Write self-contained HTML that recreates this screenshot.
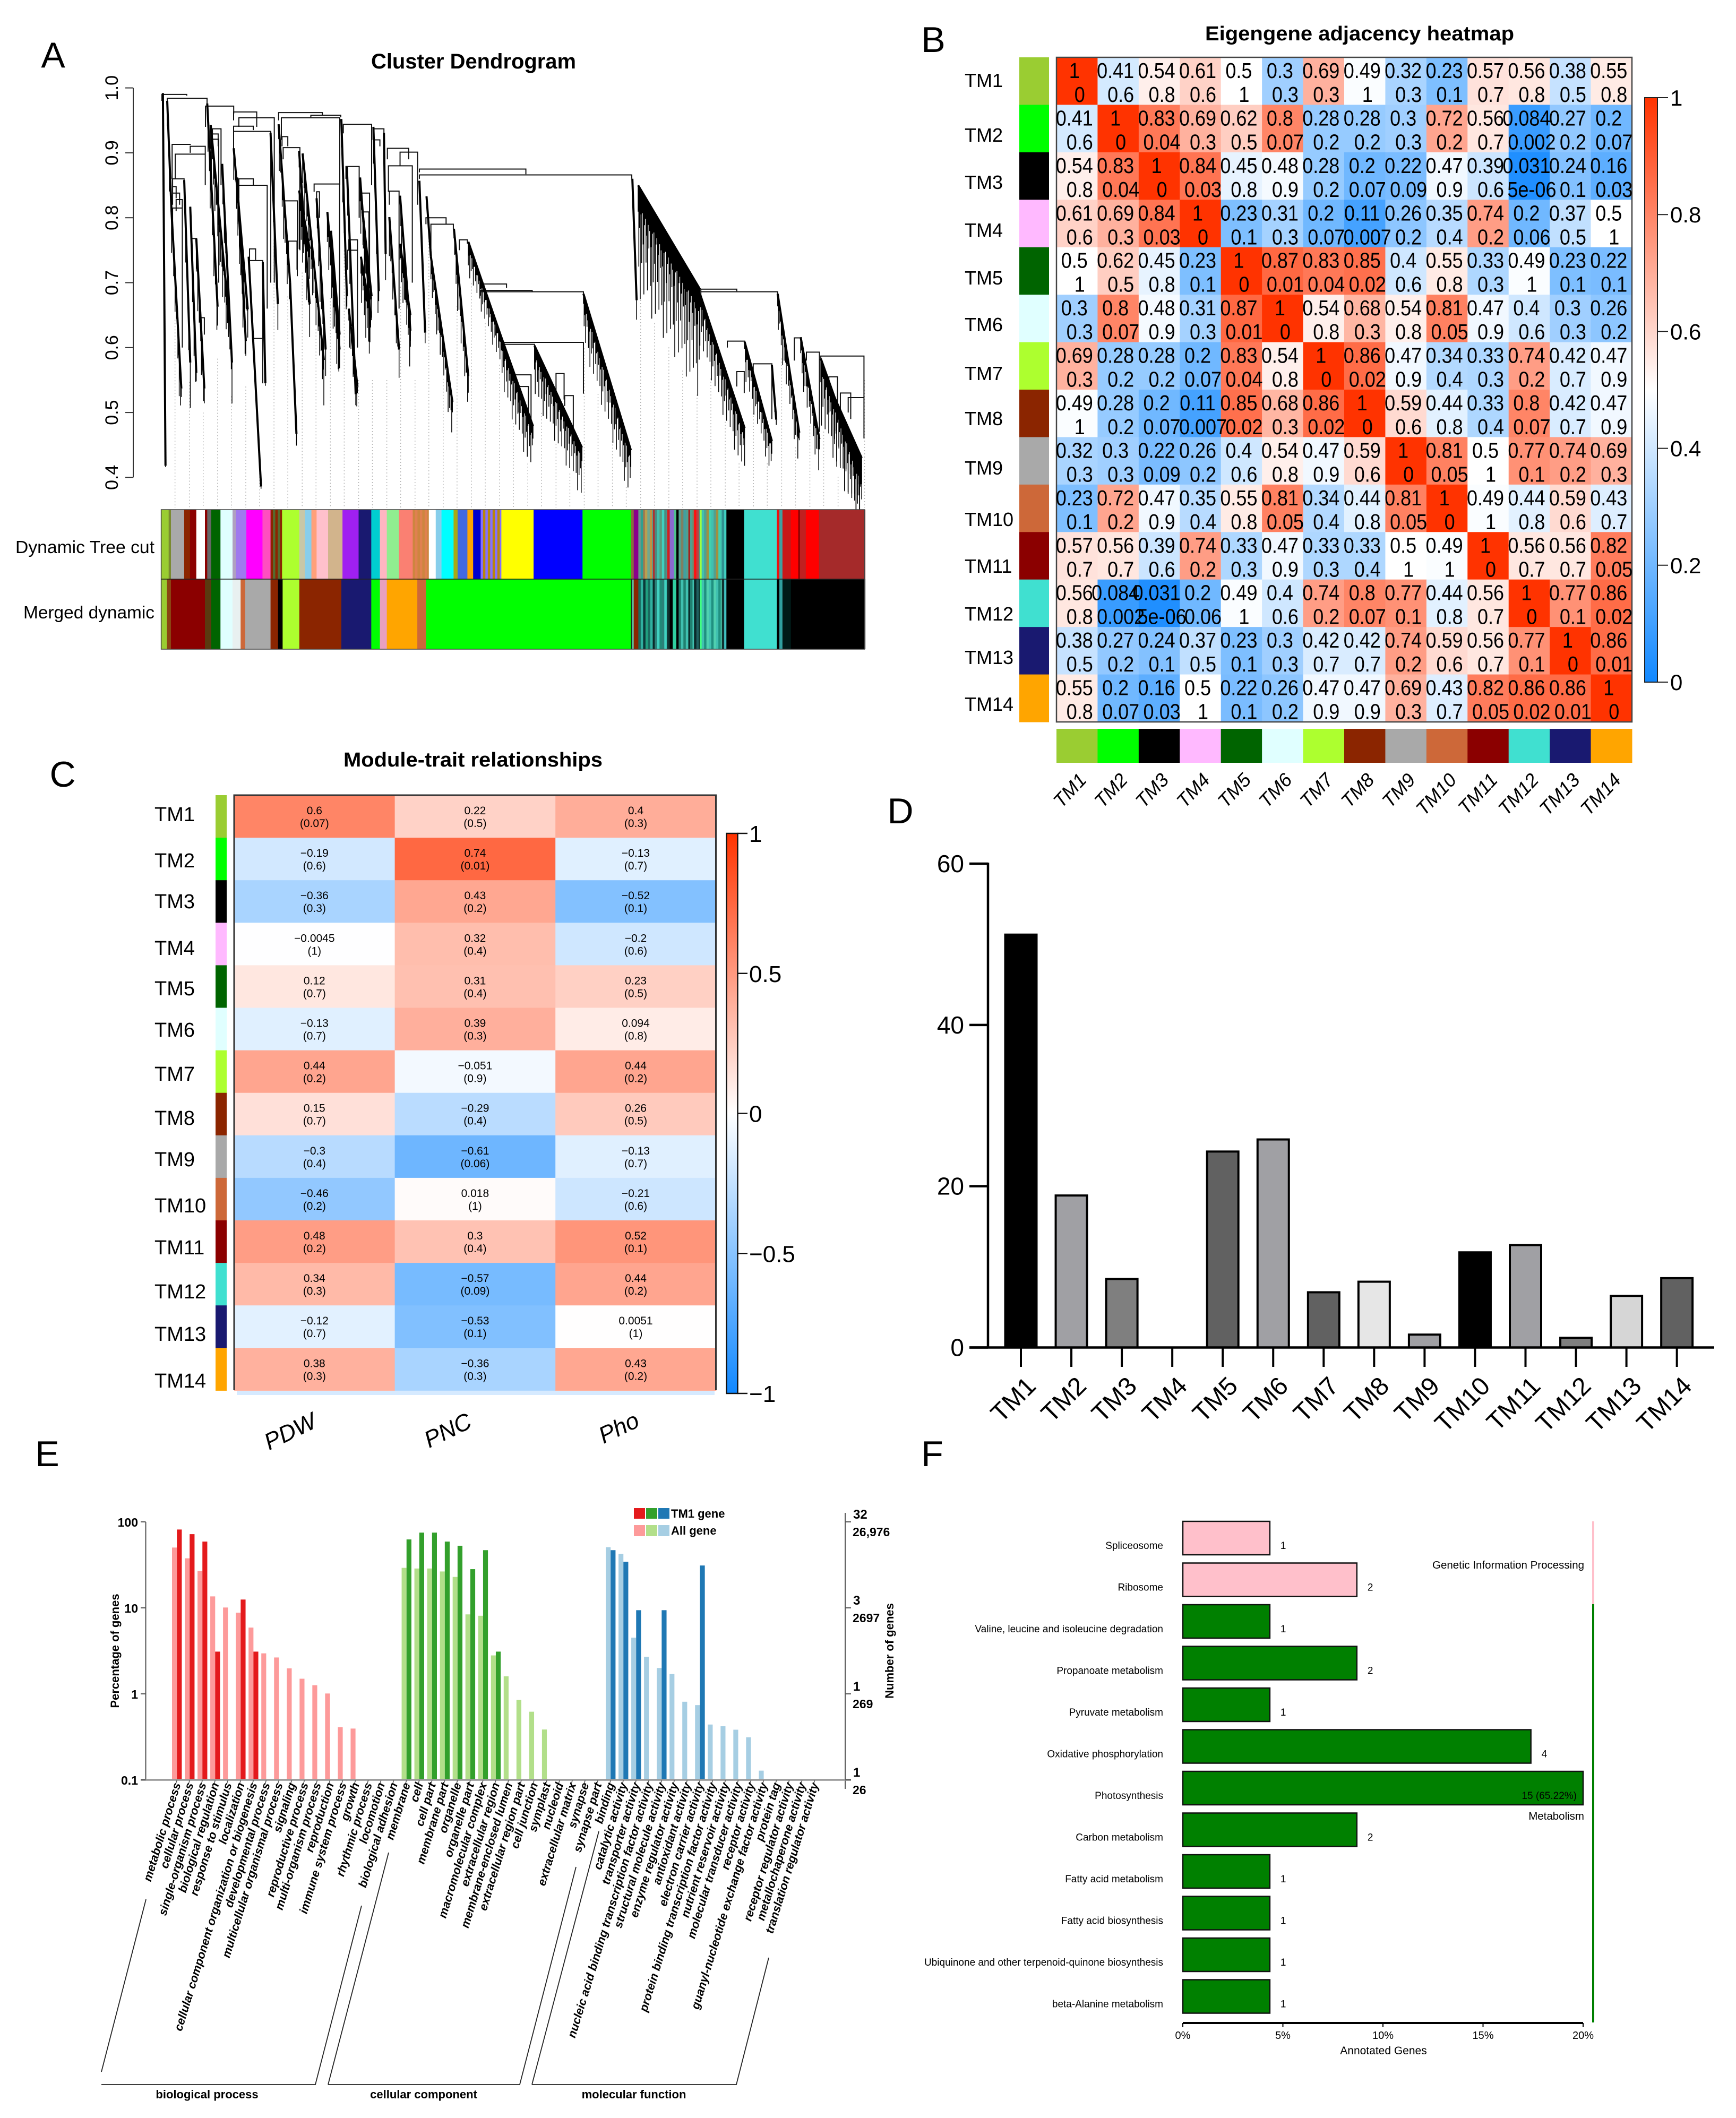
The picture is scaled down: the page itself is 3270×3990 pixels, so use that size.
<!DOCTYPE html>
<html lang="en">
<head>
<meta charset="utf-8">
<title>WGCNA module figure</title>
<style>
html,body{margin:0;padding:0;background:#fff;}
svg{display:block;}
text{font-family:"Liberation Sans",sans-serif;fill:#000;}
</style>
</head>
<body>
<svg id="fig" xmlns="http://www.w3.org/2000/svg" width="3270" height="3990" viewBox="0 0 3270 3990">
<rect x="0" y="0" width="3270" height="3990" fill="#ffffff"/>
</svg>
<script>
/* ---------- shared labels and colours ---------- */
const moduleNames = ["TM1","TM2","TM3","TM4","TM5","TM6","TM7","TM8","TM9","TM10","TM11","TM12","TM13","TM14"];
const moduleColors = ["#9acd32","#00ff00","#000000","#ffb9ff","#006400","#e0ffff","#adff2f","#8b2500","#a9a9a9","#cd6839","#8b0000","#40e0d0","#191970","#ffa500"];

/* ---------- A: dendrogram (position = leaf order, height = merge height) ---------- */
const dendroTicks = [1.0,0.9,0.8,0.7,0.6,0.5,0.4];
/* [start position, start height, end position, end height, leaf drop] */
const dendroArms = [
[283,.992,287.5,.418,.01],[290.5,.98,298,.809,.06],[298,.809,315,.537,.07],[320,.858,330.5,.577,.07],
[330.5,.817,341,.561,.07],[341,.768,355,.537,.07],[360,.976,378,.663,.08],[366,.943,396.6,.659,.08],
[386,.883,403,.577,.07],[406,.907,430.4,.659,.06],[412,.862,427,.61,.07],[432,.74,453.5,.386,.016],
[456.5,.732,461,.545,.02],[470,.931,482.7,.667,.04],[484,.944,504,.7,.07],[504,.7,515,.467,.02],
[519.6,.903,538,.667,.07],[525.7,.899,562.6,.581,.07],[519.6,.842,538,.752,.1],[568.7,.809,590,.597,.08],
[550,.83,565.7,.597,.07],[593,.952,602.6,.679,.06],[602.6,.878,618,.528,.07],[625.6,.862,644,.646,.08],
[630,.809,645.6,.679,.08],[648.7,.94,658,.687,.07],[667,.931,670,.744,.04],[676.4,.801,693.3,.597,.06],
[695,.834,713,.626,.07],[575,.78,590,.62,.08],[627,.74,644,.65,.08],[695,.76,713,.65,.06],[606,.66,621,.54,.05],
[728.6,.857,738.6,.623,.02],[741,.833,748.6,.74,.01],[748.6,.74,786,.516,.06],
[788.6,.783,813.6,.556,.07],[813.6,.763,871,.616,.05],[871,.616,926,.479,.08],[928.6,.603,1011,.446,.08],
[1013.6,.683,1096,.442,.08],[1098.6,.86,1106,.673,.03],[1108.6,.85,1216,.69,.17],[1216,.683,1293.6,.476,.08],
[1293.6,.609,1341,.456,.06],[1341,.573,1348.6,.489,.02],[1351,.683,1388.6,.469,.06],[1391,.616,1423.6,.459,.06],
[1426,.583,1496,.409,.1],[1450,.523,1497,.43,.11]
];
/* [left position, right position, merge height, left leg end, right leg end] */
const dendroMerges = [
[281.3,324.4,.99,.98,.988],[290.5,359.7,.984,.95,.97],[299,330.5,.913,.86,.912],[330.5,356.6,.91,.9,.86],
[304.4,356.6,.898,.86,.85],[299.8,319.8,.86,.82,.85],[299.8,306,.848,.83,.83],[299.8,312,.838,.82,.82],
[306,316.7,.828,.81,.81],[299.8,316.7,.815,.78,.6],[333,341.3,.768,.75,.76],[349,355,.646,.62,.62],
[357,406,.972,.94,.96],[369,384,.937,.92,.85],[369,379,.929,.9,.91],[369,380,.921,.89,.7],
[405.8,470.4,.933,.9,.7],[405.8,440,.941,.93,.935],[405.8,446,.963,.95,.94],[415,476.5,.954,.94,.7],
[415,464.2,.85,.83,.66],[415,440,.86,.85,.85],[433.5,444,.752,.73,.735],[433.5,456.5,.734,.71,.56],
[439.6,456.5,.614,.6,.545],[484,560,.962,.95,.958],[488.8,590.3,.954,.92,.85],[540,592,.958,.955,.955],
[491.9,521,.908,.89,.75],[493.4,516.5,.826,.8,.71],[501,516,.764,.75,.72],[490,500,.925,.91,.91],
[545.7,590,.852,.84,.6],[550,555,.84,.8,.8],[596.4,645.6,.944,.93,.85],[601,624,.879,.86,.8],
[628,642,.838,.82,.7],[631,641,.809,.79,.7],[606,621,.766,.75,.72],[604,621,.75,.72,.6],
[648,667,.937,.92,.93],[650,660,.92,.91,.91],[673,710,.907,.89,.89],[695,725.5,.901,.88,.82],
[674.8,716.3,.88,.84,.7],[676.4,693.3,.841,.82,.66],[728.6,913.6,.875,.87,.867],[728.6,1097.6,.866,.86,.86],
[740,775,.8,.79,.79],[748.6,787.6,.79,.75,.783],[798,812,.766,.75,.76],[834.6,880,.698,.69,.692],
[834.6,924.6,.688,.68,.686],[834.6,1013.6,.686,.68,.683],[871,1013.6,.608,.6,.529],[871,928.6,.605,.6,.6],
[893.6,922.6,.558,.55,.49],[900,918,.54,.5,.5],[981,996,.526,.51,.47],[966,980,.56,.53,.52],
[1217.6,1280,.69,.685,.687],[1217.6,1351,.686,.68,.683],[1263.6,1293.6,.61,.6,.6],[1308.6,1341,.575,.56,.49],
[1280,1293,.563,.54,.53],[1380,1392,.615,.58,.61],[1401,1423.6,.593,.58,.47],[1426,1501,.587,.58,.51],
[1473.6,1501,.523,.5,.46],[1440,1455,.555,.5,.5],[1460,1478,.53,.48,.49]
];
const leafDropPattern = [.55,1,.3,.8,.15,.65,.95,.4,.2,.75,.5,.9,.25,.6,.35,.85];
const guidePositions = [304,329,353,378,402,427,451,476,500,525,549,574,598,623,647,672,696,721,745,770,794,819,843,868,892,917,941,966,990,1015,1039,1064,1088,1113,1137,1162,1186,1211,1235,1260,1284,1309,1333,1358,1382,1407,1431,1456,1480,1502];
/* [end position, colour or list of alternating stripe colours] */
const treeCutSegments = [[293,"#9acd32"],[297,"#7a8a30"],[320,"#a9a9a9"],[330,"#8b2500"],[341,"#8b0000"],[356,"#ffffff"],[360,"#8b0000"],[367,"#666666"],[383,"#006400"],[404,"#e0ffff"],[410,"#b0a0c0"],[428,"#9f79ee"],[456,"#ff00ff"],[470,"#ff4fc0"],[490,["#8b2500","#556b2f"]],[520,"#adff2f"],[530,"#c7c7a7"],[541,"#87ceeb"],[550,"#ffa07a"],[570,"#ffc0cb"],[595,"#d2b48c"],[623,"#a020f0"],[645,"#191970"],[660,"#00ced1"],[672,"#ffb6c1"],[693,"#90ee90"],[717,"#fa8072"],[745,["#cd853f","#e08050"]],[757,"#ffffff"],[767,"#87ceeb"],[788,"#00ffff"],[795,"#a9a914"],[812,"#4169e1"],[822,"#ffa500"],[835,"#0000cd"],[871,["#8470ff","#b8860b"]],[927,"#ffff00"],[1012,"#0000ff"],[1096,"#00ff00"],[1101,"#8b6a40"],[1109,"#8b008b"],[1120.5,["#6a9a8a","#2fa090","#a07850"]],[1134.4,["#b8a050","#70a890","#c09040","#50a090"]],[1137.5,"#b03030"],[1159,["#4a8a80","#40c0b0","#5a9a80","#40d0c0"]],[1163.5,"#d02020"],[1171,"#8a6ad0"],[1175,"#50c090"],[1179,"#000000"],[1196,["#50a090","#808060","#40a0a0"]],[1199,"#a02020"],[1205.7,["#50a090","#808060"]],[1209.7,"#ff1010"],[1215.8,["#c04040","#509080"]],[1219,"#a0ff40"],[1254,["#40c0b0","#50a090","#a09040","#40d0b0"]],[1262,["#309090","#40d0c0"]],[1292.7,"#000000"],[1349.6,"#40e0d0"],[1354,"#ee1010"],[1359.4,"#40a0a0"],[1374,"#c81818"],[1387,"#ff0000"],[1389.5,"#800000"],[1400,"#c02020"],[1422.7,"#ff0000"],[1503,"#a52a2a"]];
const mergedSegments = [[290,"#9acd32"],[297,"#8b4513"],[356,"#8b0000"],[367,"#5a3a10"],[383,"#006400"],[404,"#e0ffff"],[418,"#e8f0f0"],[426,"#cd6839"],[470,"#a9a9a9"],[483,"#8b2500"],[491,"#000000"],[520,"#adff2f"],[593,"#8b2500"],[645,"#191970"],[660,"#00ff00"],[672,"#e8a0c0"],[725,"#ffa500"],[740,"#cd6839"],[1096,"#00ff00"],[1098,"#103020"],[1101,"#60c0a0"],[1109,"#8b2500"],[1134.4,["#1a6a60","#30b0a0","#0a3a3a","#20a080"]],[1137.5,"#0a2a2a"],[1159,["#2a8078","#40d0c0","#208878"]],[1163.5,"#103030"],[1168.7,"#000000"],[1175,"#30d0a0"],[1179,"#000000"],[1196,["#208070","#40c0b0"]],[1199,"#0a2a2a"],[1205.7,["#208070","#40c0b0"]],[1215.8,["#0a2a2a","#206060"]],[1219,"#40ff80"],[1254,["#40c0b0","#209080","#50d0b0"]],[1262,["#103030","#40c0c0"]],[1292.7,"#000000"],[1349.6,"#40e0d0"],[1354,"#000000"],[1359.4,"#30a0a0"],[1374,"#001a18"],[1503,"#000000"]];

/* ---------- B: eigengene adjacency (r above, p below) ---------- */
const adjacencyValues = [
[1,.41,.54,.61,.5,.3,.69,.49,.32,.23,.57,.56,.38,.55],
[.41,1,.83,.69,.62,.8,.28,.28,.3,.72,.56,.084,.27,.2],
[.54,.83,1,.84,.45,.48,.28,.2,.22,.47,.39,.031,.24,.16],
[.61,.69,.84,1,.23,.31,.2,.11,.26,.35,.74,.2,.37,.5],
[.5,.62,.45,.23,1,.87,.83,.85,.4,.55,.33,.49,.23,.22],
[.3,.8,.48,.31,.87,1,.54,.68,.54,.81,.47,.4,.3,.26],
[.69,.28,.28,.2,.83,.54,1,.86,.47,.34,.33,.74,.42,.47],
[.49,.28,.2,.11,.85,.68,.86,1,.59,.44,.33,.8,.42,.47],
[.32,.3,.22,.26,.4,.54,.47,.59,1,.81,.5,.77,.74,.69],
[.23,.72,.47,.35,.55,.81,.34,.44,.81,1,.49,.44,.59,.43],
[.57,.56,.39,.74,.33,.47,.33,.33,.5,.49,1,.56,.56,.82],
[.56,.084,.031,.2,.49,.4,.74,.8,.77,.44,.56,1,.77,.86],
[.38,.27,.24,.37,.23,.3,.42,.42,.74,.59,.56,.77,1,.86],
[.55,.2,.16,.5,.22,.26,.47,.47,.69,.43,.82,.86,.86,1]];
const adjacencyPvalues = [
["0","0.6","0.8","0.6","1","0.3","0.3","1","0.3","0.1","0.7","0.8","0.5","0.8"],
["0.6","0","0.04","0.3","0.5","0.07","0.2","0.2","0.3","0.2","0.7","0.002","0.2","0.07"],
["0.8","0.04","0","0.03","0.8","0.9","0.2","0.07","0.09","0.9","0.6","5e-06","0.1","0.03"],
["0.6","0.3","0.03","0","0.1","0.3","0.07","0.007","0.2","0.4","0.2","0.06","0.5","1"],
["1","0.5","0.8","0.1","0","0.01","0.04","0.02","0.6","0.8","0.3","1","0.1","0.1"],
["0.3","0.07","0.9","0.3","0.01","0","0.8","0.3","0.8","0.05","0.9","0.6","0.3","0.2"],
["0.3","0.2","0.2","0.07","0.04","0.8","0","0.02","0.9","0.4","0.3","0.2","0.7","0.9"],
["1","0.2","0.07","0.007","0.02","0.3","0.02","0","0.6","0.8","0.4","0.07","0.7","0.9"],
["0.3","0.3","0.09","0.2","0.6","0.8","0.9","0.6","0","0.05","1","0.1","0.2","0.3"],
["0.1","0.2","0.9","0.4","0.8","0.05","0.4","0.8","0.05","0","1","0.8","0.6","0.7"],
["0.7","0.7","0.6","0.2","0.3","0.9","0.3","0.4","1","1","0","0.7","0.7","0.05"],
["0.8","0.002","5e-06","0.06","1","0.6","0.2","0.07","0.1","0.8","0.7","0","0.1","0.02"],
["0.5","0.2","0.1","0.5","0.1","0.3","0.7","0.7","0.2","0.6","0.7","0.1","0","0.01"],
["0.8","0.07","0.03","1","0.1","0.2","0.9","0.9","0.3","0.7","0.05","0.02","0.01","0"]];
const adjacencyTicks = [1,0.8,0.6,0.4,0.2,0];

/* ---------- C: module-trait relationships ---------- */
const traitNames = ["PDW","PNC","Pho"];
const traitCorrelations = [
[.6,.22,.4],[-.19,.74,-.13],[-.36,.43,-.52],[-.0045,.32,-.2],[.12,.31,.23],[-.13,.39,.094],[.44,-.051,.44],
[.15,-.29,.26],[-.3,-.61,-.13],[-.46,.018,-.21],[.48,.3,.52],[.34,-.57,.44],[-.12,-.53,.0051],[.38,-.36,.43]];
const traitPvalues = [
["0.07","0.5","0.3"],["0.6","0.01","0.7"],["0.3","0.2","0.1"],["1","0.4","0.6"],["0.7","0.4","0.5"],["0.7","0.3","0.8"],["0.2","0.9","0.2"],
["0.7","0.4","0.5"],["0.4","0.06","0.7"],["0.2","1","0.6"],["0.2","0.4","0.1"],["0.3","0.09","0.2"],["0.7","0.1","1"],["0.3","0.3","0.2"]];
const traitTicks = [1,0.5,0,-0.5,-1];

/* ---------- D: module bar chart ---------- */
const barValues = [51.2,18.85,8.5,0,24.3,25.8,6.85,8.16,1.6,11.8,12.7,1.2,6.4,8.6];
const barFills = ["#000000","#a0a0a4","#7f7f7f","#7f7f7f","#616161","#a0a0a4","#616161","#e6e6e6","#a0a0a4","#000000","#a0a0a4","#7f7f7f","#d6d6d6","#616161"];
const barTicks = [0,20,40,60];

/* ---------- E: GO classification ---------- */
const goTerms = ["metabolic process","cellular process","single-organism process","biological regulation","response to stimulus","localization","cellular component organization or biogenesis","developmental process","multicellular organismal process","signaling","reproductive process","multi-organism process","reproduction","immune system process","growth","rhythmic process","locomotion","biological adhesion","membrane","cell","cell part","membrane part","organelle","organelle part","macromolecular complex","extracellular region","membrane-enclosed lumen","extracellular region part","cell junction","symplast","nucleoid","extracellular matrix","synapse","synapse part","binding","catalytic activity","transporter activity","nucleic acid binding transcription factor activity","structural molecule activity","enzyme regulator activity","antioxidant activity","electron carrier activity","protein binding transcription factor activity","nutrient reservoir activity","molecular transducer activity","receptor activity","guanyl-nucleotide exchange factor activity","protein tag","receptor regulator activity","metallochaperone activity","translation regulator activity"];
const goAllPercent = [50.3,37.7,26.8,13.6,10.1,8.8,5.9,2.96,2.65,1.98,1.5,1.26,1.01,.41,.395,0,0,0,
29.2,28.7,28.7,26.5,22.9,8.4,8.1,2.8,1.6,.85,.62,.385,0,0,0,0,
50.8,42.5,4.5,2.7,2.0,1.7,.81,.74,.44,.42,.383,.313,.128,0,0,0,0];
const goTm1Percent = [81.5,72,59,3.1,0,12.5,3.1,0,0,0,0,0,0,0,0,0,0,0,
62.5,75,75,59,52.8,28.2,46.9,3.1,0,0,0,0,0,0,0,0,
46.9,34.4,9.4,0,9.4,0,0,31.1,0,0,0,0,0,0,0,0,0];
const goGroupSizes = [18,16,17];
const goLightColors = ["#fd9a9a","#b2df8a","#a6cee3"];
const goDarkColors = ["#e41a1c","#33a02c","#1f78b4"];
const goLeftTicks = [100,10,1,0.1];
const goRightCounts = ["26,976","2697","269","26"];
const goRightTm1 = ["32","3","1","1"];

/* ---------- F: KEGG classification ---------- */
const keggPathways = ["Spliceosome","Ribosome","Valine, leucine and isoleucine degradation","Propanoate metabolism","Pyruvate metabolism","Oxidative phosphorylation","Photosynthesis","Carbon metabolism","Fatty acid metabolism","Fatty acid biosynthesis","Ubiquinone and other terpenoid-quinone biosynthesis","beta-Alanine metabolism"];
const keggCounts = [1,2,1,2,1,4,15,2,1,1,1,1];
const keggTotal = 23;
const keggTicks = [0,5,10,15,20];
const keggGeneticCount = 2;

/* ---------- helpers ---------- */
const SVGNS = "http://www.w3.org/2000/svg";
const root = document.getElementById("fig");
function mk(tag, parent, name, attrs){
  const el = document.createElementNS(SVGNS, tag);
  
  
  for(const k in attrs){ el.setAttribute(k, attrs[k]); }
  parent.appendChild(el);
  return el;
}
function txt(parent, name, str, attrs){
  const el = mk("text", parent, name, attrs);
  el.textContent = str;
  return el;
}
function slug(s){ return String(s).toLowerCase().replace(/[^a-z0-9]+/g,"-"); }
function mix(a,b,t){
  const r = Math.round(a[0]+(b[0]-a[0])*t), g = Math.round(a[1]+(b[1]-a[1])*t), bl = Math.round(a[2]+(b[2]-a[2])*t);
  return "rgb("+r+","+g+","+bl+")";
}
const LOW=[17,136,255], MID=[255,255,255], HIGH=[255,51,0];
function divergent(t){ /* t in -1..1 */
  return t<0 ? mix(MID,LOW,Math.min(1,-t)) : mix(MID,HIGH,Math.min(1,t));
}
function fmt(v){ return String(v).replace("-", "\u2212"); }
const defs = mk("defs", root, "gradient-definitions", {});
function colorbarGradient(id){
  const g = mk("linearGradient", defs, id, {id:id,x1:0,y1:0,x2:0,y2:1});
  mk("stop", g, "stop-high", {offset:"0%","stop-color":"rgb(255,51,0)"});
  mk("stop", g, "stop-mid", {offset:"50%","stop-color":"#ffffff"});
  mk("stop", g, "stop-low", {offset:"100%","stop-color":"rgb(17,136,255)"});
}
colorbarGradient("cbar-b");
colorbarGradient("cbar-c");
function panelLetter(letter,x,y){
  txt(root, "panel-label-"+letter.toLowerCase(), letter, {x:x,y:y,"font-size":68,"text-anchor":"middle"});
}
panelLetter("A",100,127);
panelLetter("B",1758,98);
panelLetter("C",118,1482);
panelLetter("D",1696,1551);
panelLetter("E",89,2762);
panelLetter("F",1756,2762);

/* ---------- draw A ---------- */
(function(){
  const g = mk("g", root, "cluster-dendrogram-panel", {});
  const xP = p => 303.6 + (p-280)*1.0842;
  const yH = h => 165.6 + (1-h)*1223;
  txt(g, "dendrogram-title", "Cluster Dendrogram", {x:892,y:129,"font-size":40,"font-weight":"bold","text-anchor":"middle",textLength:386,lengthAdjust:"spacingAndGlyphs"});
  mk("line", g, "dendrogram-y-axis", {x1:251,x2:251,y1:yH(1),y2:yH(.4),stroke:"#333",  "stroke-width":2});
  dendroTicks.forEach(t=>{
    mk("line", g, "dendrogram-y-tick", {x1:236,x2:251,y1:yH(t),y2:yH(t),stroke:"#333","stroke-width":2});
    txt(g, "dendrogram-y-tick-label", t.toFixed(1), {transform:"translate(222,"+yH(t)+") rotate(-90)","font-size":34,"text-anchor":"middle",fill:"#222"});
  });
  /* leaf guides */
  let guides = "";
  guidePositions.forEach(p=>{
    let lowest = 1.1;
    dendroArms.forEach(a=>{
      if(p>=a[0] && p<=a[2]){
        const h = a[1]+(a[3]-a[1])*(p-a[0])/(a[2]-a[0]) - a[4];
        if(h<lowest){ lowest = h; }
      }
    });
    const top = lowest>1 ? .55 : lowest;
    guides += "M"+xP(p)+" "+yH(top)+"V957";
  });
  mk("path", g, "dendrogram-leaf-guides", {d:guides,stroke:"#b5b5b5","stroke-width":1.5,"stroke-dasharray":"2 4",fill:"none"});
  /* merges */
  let merges = "";
  dendroMerges.forEach(m=>{
    merges += "M"+xP(m[0])+" "+yH(m[3])+"V"+yH(m[2])+"H"+xP(m[1])+"V"+yH(m[4]);
  });
  mk("path", g, "dendrogram-merge-brackets", {d:merges,stroke:"#111","stroke-width":2,fill:"none"});
  /* arms with leaves: most leaves drop a little, a few drop far */
  dendroArms.forEach((a,ai)=>{
    let d = "";
    const span = xP(a[2])-xP(a[0]);
    const n = Math.max(3,Math.round(span/1.35));
    for(let i=0;i<=n;i++){
      const t = i/n;
      const p = a[0]+(a[2]-a[0])*t;
      const h = a[1]+(a[3]-a[1])*t;
      const pat = leafDropPattern[(i+ai*3)%leafDropPattern.length];
      const drop = a[4]*(0.18+0.82*Math.pow(pat,2.5));
      d += "M"+xP(p).toFixed(1)+" "+yH(h).toFixed(1)+"V"+yH(h-drop).toFixed(1);
    }
    mk("path", g, "dendrogram-leaves-"+ai, {d:d,stroke:"#000","stroke-width":1.5,fill:"none"});
    mk("line", g, "dendrogram-branch-"+ai, {x1:xP(a[0]),y1:yH(a[1]),x2:xP(a[2]),y2:yH(a[3]),stroke:"#000","stroke-width":4});
  });
  /* colour rows */
  function colourRow(name, segs, y, h){
    let start = 280;
    segs.forEach(s=>{
      const end = s[0];
      if(Array.isArray(s[1])){
        const w = 4.5/1.0842;
        let k = 0;
        for(let p=start;p<end;p+=w){
          mk("rect", g, name+"-stripe", {x:xP(p),y:y,width:Math.min(w,end-p)*1.0842+.5,height:h,fill:s[1][k%s[1].length]});
          k++;
        }
      } else {
        mk("rect", g, name+"-segment", {x:xP(start),y:y,width:(end-start)*1.0842+.5,height:h,fill:s[1]});
      }
      start = end;
    });
  }
  colourRow("dynamic-tree-cut", treeCutSegments, 960, 131);
  colourRow("merged-dynamic", mergedSegments, 1091, 132);
  mk("rect", g, "module-colour-frame", {x:303.6,y:960,width:1325,height:263,fill:"none",stroke:"#444","stroke-width":1.5});
  mk("line", g, "module-colour-divider", {x1:303.6,x2:1628,y1:1091,y2:1091,stroke:"#222","stroke-width":1.5});
  txt(g, "dynamic-tree-cut-label", "Dynamic Tree cut", {x:291,y:1042,"font-size":33,"text-anchor":"end",textLength:262,lengthAdjust:"spacingAndGlyphs"});
  txt(g, "merged-dynamic-label", "Merged dynamic", {x:291,y:1165,"font-size":33,"text-anchor":"end",textLength:247,lengthAdjust:"spacingAndGlyphs"});
})();

/* ---------- draw B ---------- */
(function(){
  const g = mk("g", root, "eigengene-heatmap-panel", {});
  const L=1990, T=108, CW=(3074-1990)/14, CH=(1360-108)/14;
  txt(g, "eigengene-heatmap-title", "Eigengene adjacency heatmap", {x:2561,y:76,"font-size":38,"font-weight":"bold","text-anchor":"middle",textLength:582,lengthAdjust:"spacingAndGlyphs"});
  adjacencyValues.forEach((row,r)=>{
    row.forEach((v,c)=>{
      mk("rect", g, "adjacency-cell", {x:L+c*CW,y:T+r*CH,width:CW+.5,height:CH+.5,fill:divergent((v-.5)*2)});
    });
  });
  mk("rect", g, "adjacency-frame", {x:L,y:T,width:3074-L,height:1360-T,fill:"none",stroke:"#444","stroke-width":2.5});
  adjacencyValues.forEach((row,r)=>{
    row.forEach((v,c)=>{
      const cx = L+c*CW+CW/2;
      txt(g, "adjacency-value", String(v), {transform:"translate("+(cx-5)+","+(T+r*CH+39)+") scale(1,1.12)","font-size":36,"text-anchor":"middle"});
      txt(g, "adjacency-pvalue", adjacencyPvalues[r][c], {transform:"translate("+(cx+5)+","+(T+r*CH+84)+") scale(1,1.12)","font-size":36,"text-anchor":"middle"});
    });
  });
  const bLabelY = [151,254,343,433,523,611,703,788,881,978,1066,1156,1238,1326];
  moduleNames.forEach((n,i)=>{
    mk("rect", g, "row-colour-"+slug(n), {x:1920,y:T+i*CH,width:56,height:CH+.5,fill:moduleColors[i]});
    txt(g, "row-label-"+slug(n), n, {x:1817,y:bLabelY[i]+13,"font-size":36});
    mk("rect", g, "column-colour-"+slug(n), {x:L+i*CW,y:1373,width:CW+.5,height:64,fill:moduleColors[i]});
    txt(g, "column-label-"+slug(n), n, {transform:"translate("+(L+i*CW+CW/2+20)+",1471) rotate(-47)","font-size":36,"text-anchor":"end","font-style":"italic"});
  });
  mk("rect", g, "adjacency-colorbar", {x:3098,y:184,width:24,height:1101,fill:"url(#cbar-b)",stroke:"#222","stroke-width":2});
  adjacencyTicks.forEach(t=>{
    const y = 1285-t*1101;
    mk("line", g, "adjacency-colorbar-tick", {x1:3122,x2:3142,y1:y,y2:y,stroke:"#222","stroke-width":2});
    txt(g, "adjacency-colorbar-label", String(t), {x:3146,y:y+15,"font-size":42});
  });
})();

/* ---------- draw C ---------- */
(function(){
  const g = mk("g", root, "module-trait-panel", {});
  const L=441, T=1498, CW=302.6, CH=80.1;
  txt(g, "module-trait-title", "Module-trait relationships", {x:891,y:1444,"font-size":38,"font-weight":"bold","text-anchor":"middle",textLength:488,lengthAdjust:"spacingAndGlyphs"});
  traitCorrelations.forEach((row,r)=>{
    row.forEach((v,c)=>{
      const x = L+c*CW, y = T+r*CH;
      mk("rect", g, "trait-cell", {x:x,y:y,width:CW+.5,height:CH+.5,fill:divergent(v)});
      txt(g, "trait-correlation", fmt(v), {x:x+CW/2,y:y+36,"font-size":21,"text-anchor":"middle"});
      txt(g, "trait-pvalue", "("+traitPvalues[r][c]+")", {x:x+CW/2,y:y+60,"font-size":21,"text-anchor":"middle"});
    });
  });
  mk("path", g, "trait-frame", {d:"M441 2619V1498H1348.5V2619",fill:"none",stroke:"#333","stroke-width":3});
  mk("rect", g, "trait-bottom-smear", {x:446,y:2620,width:900,height:8,fill:"#d6eaff"});
  const cLabelY = [1533,1620,1697,1785,1861,1939,2022,2105,2183,2270,2349,2432,2512,2600];
  moduleNames.forEach((n,i)=>{
    mk("rect", g, "trait-row-colour-"+slug(n), {x:406,y:T+i*CH,width:21,height:CH+.5,fill:moduleColors[i]});
    txt(g, "trait-row-label-"+slug(n), n, {x:291,y:cLabelY[i]+14,"font-size":38});
  });
  const traitLabelPos = [[553,2695],[850,2693],[1172,2688]];
  traitNames.forEach((n,i)=>{
    txt(g, "trait-label-"+slug(n), n, {transform:"translate("+traitLabelPos[i][0]+","+(traitLabelPos[i][1]+15)+") rotate(-26)","font-size":44,"text-anchor":"middle","font-style":"italic"});
  });
  mk("rect", g, "trait-colorbar", {x:1368.5,y:1570,width:21,height:1055,fill:"url(#cbar-c)",stroke:"#111","stroke-width":2.5});
  traitTicks.forEach(t=>{
    const y = 2097.5-t*527.5;
    mk("line", g, "trait-colorbar-tick", {x1:1389,x2:1408,y1:y,y2:y,stroke:"#111","stroke-width":2.5});
    txt(g, "trait-colorbar-label", fmt(t), {x:1411,y:y+16,"font-size":44});
  });
})();

/* ---------- draw D ---------- */
(function(){
  const g = mk("g", root, "module-bar-chart-panel", {});
  const y0 = 2538.5, k = (2538.5-1627)/60;
  const yV = v => y0 - v*k;
  const xI = i => 1923 + i*95.05;
  barValues.forEach((v,i)=>{
    if(v>0){
      mk("rect", g, "bar-"+slug(moduleNames[i]), {x:xI(i)-29.5,y:yV(v),width:59,height:v*k,fill:barFills[i],stroke:"#000","stroke-width":4});
    }
    mk("line", g, "x-tick-"+slug(moduleNames[i]), {x1:xI(i),x2:xI(i),y1:y0,y2:2575,stroke:"#000","stroke-width":4});
    txt(g, "x-label-"+slug(moduleNames[i]), moduleNames[i], {transform:"translate("+(xI(i)+31)+",2614) rotate(-45)","font-size":48,"text-anchor":"end"});
  });
  mk("line", g, "bar-y-axis", {x1:1861,x2:1861,y1:yV(60)-2,y2:y0,stroke:"#000","stroke-width":4.5});
  mk("line", g, "bar-x-axis", {x1:1826,x2:3229,y1:y0,y2:y0,stroke:"#000","stroke-width":4.5});
  barTicks.forEach(t=>{
    mk("line", g, "bar-y-tick", {x1:1826,x2:1861,y1:yV(t),y2:yV(t),stroke:"#000","stroke-width":4.5});
    txt(g, "bar-y-tick-label", String(t), {x:1816,y:yV(t)+16,"font-size":46,"text-anchor":"end"});
  });
})();

/* ---------- draw E ---------- */
(function(){
  const g = mk("g", root, "go-classification-panel", {});
  const yP = v => 3353 - (Math.log10(v)+1)*162;
  const xI = i => 328.6 + i*24.03;
  let groupStart = 0;
  goGroupSizes.forEach((size,gi)=>{
    for(let i=groupStart;i<groupStart+size;i++){
      if(goAllPercent[i]>0){
        mk("rect", g, "go-all-bar", {x:xI(i)-4.6,y:yP(goAllPercent[i]),width:9.2,height:3353-yP(goAllPercent[i]),fill:goLightColors[gi]});
      }
      if(goTm1Percent[i]>0){
        mk("rect", g, "go-tm1-bar", {x:xI(i)+4.6,y:yP(goTm1Percent[i]),width:9.2,height:3353-yP(goTm1Percent[i]),fill:goDarkColors[gi]});
      }
    }
    groupStart += size;
  });
  mk("line", g, "go-left-axis", {x1:274.5,x2:274.5,y1:2867,y2:3353,stroke:"#555","stroke-width":2});
  mk("line", g, "go-right-axis", {x1:1592,x2:1592,y1:2850,y2:3370,stroke:"#555","stroke-width":2});
  mk("line", g, "go-baseline", {x1:265,x2:1603,y1:3353,y2:3353,stroke:"#999","stroke-width":3.5});
  goLeftTicks.forEach(t=>{
    mk("line", g, "go-left-tick", {x1:265,x2:274.5,y1:yP(t),y2:yP(t),stroke:"#555","stroke-width":2});
    txt(g, "go-left-tick-label", String(t), {x:260,y:yP(t)+9,"font-size":23,"font-weight":"bold","text-anchor":"end"});
  });
  goLeftTicks.forEach((t,i)=>{
    mk("line", g, "go-right-tick", {x1:1592,x2:1603,y1:yP(t),y2:yP(t),stroke:"#555","stroke-width":2});
    txt(g, "go-right-tm1-count", goRightTm1[i], {x:1607,y:yP(t)-6,"font-size":24,"font-weight":"bold",fill:"#1010e8"});
    txt(g, "go-right-all-count", goRightCounts[i], {x:1606,y:yP(t)+27,"font-size":23,"font-weight":"bold"});
  });
  txt(g, "go-y-axis-title-left", "Percentage of genes", {transform:"translate(224,3110) rotate(-90)","font-size":22,"font-weight":"bold","text-anchor":"middle"});
  txt(g, "go-y-axis-title-right", "Number of genes", {transform:"translate(1683,3110) rotate(-90)","font-size":22,"font-weight":"bold","text-anchor":"middle"});
  goTerms.forEach((t,i)=>{
    mk("line", g, "go-term-tick", {x1:xI(i)+4.6,x2:xI(i)+2,y1:3354,y2:3362,stroke:"#555","stroke-width":1.5});
    txt(g, "go-term-label", t, {transform:"translate("+(xI(i)+12)+",3361) rotate(-73)","font-size":22,"font-weight":"bold","font-style":"italic","text-anchor":"end"});
  });
  goLightColors.forEach((c,i)=>{
    mk("rect", g, "go-legend-tm1-swatch", {x:1194+i*23,y:2841,width:21,height:20,fill:goDarkColors[i]});
    mk("rect", g, "go-legend-all-swatch", {x:1194+i*23,y:2873,width:21,height:21,fill:c});
  });
  txt(g, "go-legend-tm1-label", "TM1 gene", {x:1264,y:2859,"font-size":22,"font-weight":"bold",fill:"#1010e8"});
  txt(g, "go-legend-all-label", "All gene", {x:1264,y:2891,"font-size":22,"font-weight":"bold"});
  const brackets = [
    ["biological-process","biological process","M275 3578L191 3903M191 3927H594L681 3590",390],
    ["cellular-component","cellular component","M618 3927L732 3490M618 3927H979L1085 3517",798],
    ["molecular-function","molecular function","M1002 3927L1128 3450M1002 3927H1387L1448 3688",1194]
  ];
  brackets.forEach(b=>{
    mk("path", g, "go-bracket-"+b[0], {d:b[2],fill:"none",stroke:"#222","stroke-width":1.8});
    txt(g, "go-group-label-"+b[0], b[1], {x:b[3],y:3953,"font-size":22,"font-weight":"bold","text-anchor":"middle"});
  });
})();

/* ---------- draw F ---------- */
(function(){
  const g = mk("g", root, "kegg-classification-panel", {});
  const xP = p => 2228 + Math.min(p,20)*37.7;
  const rowTop = i => 2866 + i*78.5;
  keggPathways.forEach((name,i)=>{
    const pct = keggCounts[i]/keggTotal*100;
    mk("rect", g, "kegg-bar-"+slug(name), {x:2228,y:rowTop(i),width:xP(pct)-2228,height:63,fill:i<keggGeneticCount?"#ffc0cb":"#008000",stroke:"#111","stroke-width":2.5});
    txt(g, "kegg-label-"+slug(name), name, {x:2191,y:rowTop(i)+52,"font-size":19,"text-anchor":"end"});
    if(pct>20){
      txt(g, "kegg-count-"+slug(name), keggCounts[i]+" ("+pct.toFixed(2)+"%)", {x:2970,y:rowTop(i)+52,"font-size":19,"text-anchor":"end"});
    } else {
      txt(g, "kegg-count-"+slug(name), String(keggCounts[i]), {x:xP(pct)+20,y:rowTop(i)+52,"font-size":19});
    }
  });
  const catEnd = rowTop(keggGeneticCount)-1;
  mk("line", g, "kegg-category-strip-genetic", {x1:3001,x2:3001,y1:2866,y2:catEnd,stroke:"#ffc0cb","stroke-width":4});
  mk("line", g, "kegg-category-strip-metabolism", {x1:3001,x2:3001,y1:catEnd,y2:3810,stroke:"#008000","stroke-width":4});
  txt(g, "kegg-category-genetic", "Genetic Information Processing", {x:2984,y:2955,"font-size":20.5,"text-anchor":"end"});
  txt(g, "kegg-category-metabolism", "Metabolism", {x:2984,y:3428,"font-size":20.5,"text-anchor":"end"});
  mk("line", g, "kegg-x-axis", {x1:2228,x2:2982,y1:3811,y2:3811,stroke:"#000","stroke-width":4});
  keggTicks.forEach(t=>{
    mk("line", g, "kegg-x-tick", {x1:xP(t),x2:xP(t),y1:3811,y2:3819,stroke:"#000","stroke-width":2});
    txt(g, "kegg-x-tick-label", t+"%", {x:xP(t),y:3841,"font-size":20,"text-anchor":"middle"});
  });
  txt(g, "kegg-x-axis-title", "Annotated Genes", {x:2606,y:3870,"font-size":21,"text-anchor":"middle"});
})();
</script>
</body>
</html>
